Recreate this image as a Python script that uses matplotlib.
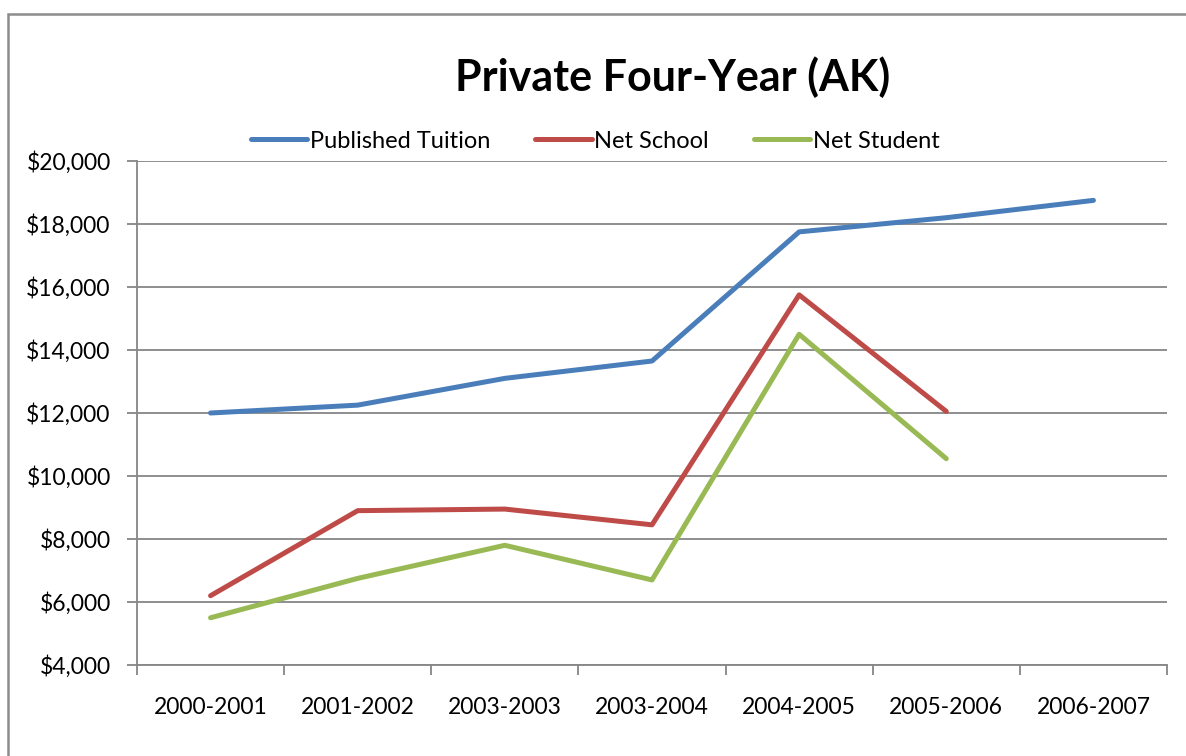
import matplotlib
matplotlib.use("Agg")
import matplotlib.pyplot as plt
from matplotlib.patches import Rectangle
import numpy as np

categories = ["2000-2001", "2001-2002", "2003-2003", "2003-2004", "2004-2005", "2005-2006", "2006-2007"]
published = [12000, 12250, 13100, 13650, 17750, 18200, 18750]
net_school = [6200, 8900, 8950, 8450, 15750, 12050, np.nan]
net_student = [5500, 6750, 7800, 6700, 14500, 10550, np.nan]
yticks = [4000, 6000, 8000, 10000, 12000, 14000, 16000, 18000, 20000]

plt.rcParams['font.family'] = ['Lato', 'DejaVu Sans']

W, H = 1186, 756
fig = plt.figure(figsize=(W / 100, H / 100), dpi=100)
fig.patches.append(Rectangle((8 / W, -0.1), 1.2, 1 - 14 / H + 0.1, transform=fig.transFigure,
                             fill=False, edgecolor="#8c8c8c", linewidth=1.8))

ax = fig.add_axes([137 / W, 1 - 665 / H, (1167 - 137) / W, (665 - 161) / H])
x = np.arange(len(categories))
gc = "#868686"
ax.plot(x, published, color="#4A7EBB", lw=3.6, solid_capstyle="round", label="Published Tuition")
ax.plot(x, net_school, color="#BE4B48", lw=3.6, solid_capstyle="round", label="Net School")
ax.plot(x, net_student, color="#98B954", lw=3.6, solid_capstyle="round", label="Net Student")

ax.set_xlim(-0.5, len(categories) - 0.5)
ax.set_ylim(4000, 20000)
ax.set_yticks(yticks)
ax.set_yticklabels([f"${v:,}" for v in yticks], fontsize=16.5)
ax.yaxis.grid(True, color=gc, lw=1.3)
ax.set_axisbelow(True)
ax.set_xticks(np.arange(len(categories) + 1) - 0.5)
ax.set_xticklabels([])
ax.set_xticks(x, minor=True)
ax.set_xticklabels(categories, minor=True, fontsize=16.5)
ax.tick_params(axis="x", which="minor", length=0, pad=23)
ax.tick_params(axis="x", which="major", length=7, width=1.3, color=gc, direction="out")
ax.tick_params(axis="y", length=7, width=1.3, color=gc, pad=12)
for s in ["top", "right"]:
    ax.spines[s].set_visible(False)
for s in ["left", "bottom"]:
    ax.spines[s].set_color(gc)
    ax.spines[s].set_linewidth(1.3)

fig.text(673 / W, 1 - 77 / H, "Private Four-Year (AK)", ha="center", va="center",
         fontsize=31, fontweight="bold")
leg = fig.legend(loc="center", bbox_to_anchor=(595 / W, 1 - 141 / H), ncol=3, frameon=False,
                 fontsize=17, handlelength=2.4, handletextpad=0.1, columnspacing=1.9)

fig.savefig("out.png", dpi=100)
